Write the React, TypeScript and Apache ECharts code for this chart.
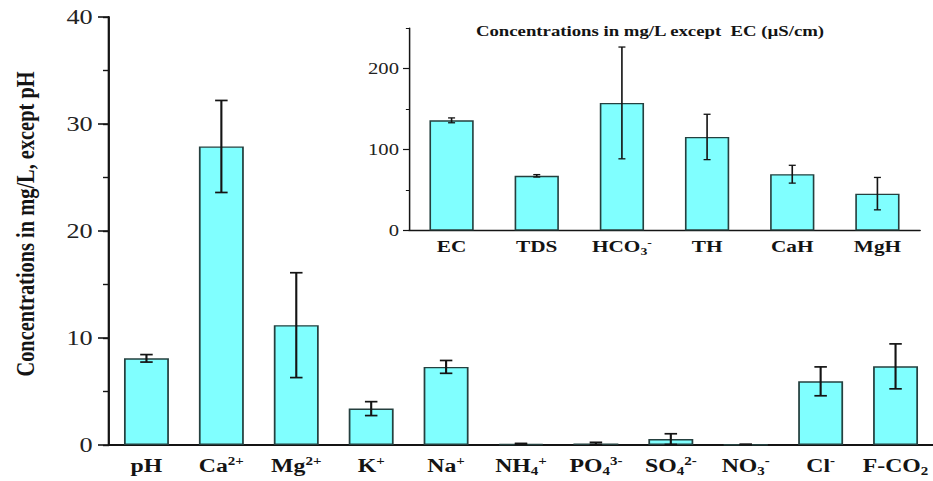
import React, { useEffect, useRef } from 'react';
import * as echarts from 'echarts';

// horizontal stretch of the reference figure
const CW = 746;
const CH = 481;
const SX = 933 / CW;
const SERIF = '"Liberation Serif", "Times New Roman", serif';

const mainCategories = ['pH', 'Ca2+', 'Mg2+', 'K+', 'Na+', 'NH4+', 'PO43-', 'SO42-', 'NO3-', 'Cl-', 'F-CO2'];
const mainLabels = [
  'pH', 'Ca{sup|2+}', 'Mg{sup|2+}', 'K{sup|+}', 'Na{sup|+}', 'NH{sub|4}{sup|+}',
  'PO{sub|4}{sup|3-}', 'SO{sub|4}{sup|2-}', 'NO{sub|3}{sup|-}', 'Cl{sup|-}', 'F-CO{sub|2}',
];
const mainValues = [8.1, 27.9, 11.2, 3.4, 7.3, 0.1, 0.15, 0.55, 0.05, 5.95, 7.35];
const mainErrors = [0.35, 4.3, 4.9, 0.65, 0.6, 0.05, 0.1, 0.5, 0.02, 1.35, 2.1];
const mainTicks = [0, 10, 20, 30, 40];

const insetCategories = ['EC', 'TDS', 'HCO3-', 'TH', 'CaH', 'MgH'];
const insetLabels = ['EC', 'TDS', 'HCO{sub|3}{sup|-}', 'TH', 'CaH', 'MgH'];
const insetValues = [136, 67.5, 157.5, 115.5, 69.5, 45.5];
const insetErrors = [3, 1.5, 69, 28, 11, 20];
const insetTicks = [0, 100, 200];

const mainTitle = 'Concentrations in mg/L, except pH';
const insetTitle = 'Concentrations in mg/L except  EC (\u00b5S/cm)';

const BAR_COLOR = '#80ffff';
const BAR_BORDER = '#25403f';
const INK = '#141414';

function makeRich(size: number, supSize: number) {
  return {
    sup: { fontSize: supSize, lineHeight: supSize, verticalAlign: 'top', fontWeight: 'bold', fontFamily: SERIF, color: INK },
    sub: { fontSize: supSize, lineHeight: supSize, verticalAlign: 'bottom', fontWeight: 'bold', fontFamily: SERIF, color: INK },
  };
}

function errRender(halfCap: number, lw: number) {
  return (params: any, api: any) => {
    const i = api.value(0);
    const lo = api.coord([i, api.value(1)]);
    const hi = api.coord([i, api.value(2)]);
    const style = { stroke: INK, lineWidth: lw, fill: 'none' };
    return {
      type: 'group',
      children: [
        { type: 'line', shape: { x1: hi[0], y1: hi[1], x2: lo[0], y2: lo[1] }, style },
        { type: 'line', shape: { x1: hi[0] - halfCap, y1: hi[1], x2: hi[0] + halfCap, y2: hi[1] }, style },
        { type: 'line', shape: { x1: lo[0] - halfCap, y1: lo[1], x2: lo[0] + halfCap, y2: lo[1] }, style },
      ],
    };
  };
}

export default function App() {
  const ref = useRef<HTMLDivElement>(null);

  useEffect(() => {
    if (!ref.current) return;
    const chart = echarts.init(ref.current, undefined, { renderer: 'svg' });

    const mainMax = mainTicks[mainTicks.length - 1];
    const mainStep = mainTicks[1] - mainTicks[0];
    const insetStep = insetTicks[1] - insetTicks[0];

    const option: any = {
      animation: false,
      backgroundColor: '#ffffff',
      grid: [
        { left: 109 / SX, top: 17, width: (11 * 75.3) / SX, height: 428 },
        { left: 409 / SX, top: 28, width: 511 / SX, height: 202.5 },
      ],
      xAxis: [
        {
          type: 'category', gridIndex: 0, data: mainCategories,
          axisLine: { lineStyle: { color: INK, width: 2 } },
          axisTick: { alignWithLabel: true, length: 8, lineStyle: { color: INK, width: 1.6 } },
          axisLabel: {
            interval: 0, margin: 10, fontSize: 19, lineHeight: 22, fontWeight: 'bold', fontFamily: SERIF, color: INK,
            formatter: (_v: string, i: number) => mainLabels[i],
            rich: makeRich(19, 12),
          },
          splitLine: { show: false },
        },
        {
          type: 'category', gridIndex: 0, data: mainCategories,
          axisLine: { show: false },
          axisTick: { length: 3, lineStyle: { color: INK, width: 1.4 } },
          axisLabel: { show: false },
          splitLine: { show: false },
        },
        {
          type: 'category', gridIndex: 1, data: insetCategories,
          axisLine: { lineStyle: { color: INK, width: 1.4 } },
          axisTick: { alignWithLabel: true, length: 4, lineStyle: { color: INK, width: 1.2 } },
          axisLabel: {
            interval: 0, margin: 6, fontSize: 17, lineHeight: 20, fontWeight: 'bold', fontFamily: SERIF, color: INK,
            formatter: (_v: string, i: number) => insetLabels[i],
            rich: makeRich(17, 11),
          },
          splitLine: { show: false },
        },
        {
          type: 'category', gridIndex: 1, data: insetCategories,
          axisLine: { show: false },
          axisTick: { length: 2.5, lineStyle: { color: INK, width: 1 } },
          axisLabel: { show: false },
          splitLine: { show: false },
        },
      ],
      yAxis: [
        {
          type: 'value', gridIndex: 0, position: 'left', min: 0, max: mainMax, interval: mainStep,
          axisLine: { show: true, lineStyle: { color: INK, width: 1.8 } },
          axisTick: { show: true, length: 8.8, lineStyle: { color: INK, width: 1.6 } },
          axisLabel: { margin: 13, fontSize: 21, fontFamily: SERIF, color: '#222' },
          splitLine: { show: false },
        },
        {
          type: 'value', gridIndex: 0, position: 'left', min: 0, max: mainMax, interval: mainStep / 2,
          axisLine: { show: false },
          axisTick: { show: true, length: 4.8, lineStyle: { color: INK, width: 1.4 } },
          axisLabel: { show: false },
          splitLine: { show: false },
        },
        {
          type: 'value', gridIndex: 1, position: 'left', min: 0, max: 250, interval: insetStep,
          axisLine: { show: true, lineStyle: { color: INK, width: 1.2 } },
          axisTick: { show: true, length: 4.8, lineStyle: { color: INK, width: 1.2 } },
          axisLabel: { margin: 8, fontSize: 16.5, fontFamily: SERIF, color: '#222', showMaxLabel: false },
          splitLine: { show: false },
        },
        {
          type: 'value', gridIndex: 1, position: 'left', min: 0, max: 250, interval: insetStep / 2,
          axisLine: { show: false },
          axisTick: { show: true, length: 2.5, lineStyle: { color: INK, width: 1 } },
          axisLabel: { show: false },
          splitLine: { show: false },
        },
      ],
      series: [
        {
          type: 'bar', xAxisIndex: 0, yAxisIndex: 0, data: mainValues, barWidth: '60%',
          itemStyle: { color: BAR_COLOR, borderColor: BAR_BORDER, borderWidth: 1.4 },
        },
        {
          type: 'custom', xAxisIndex: 0, yAxisIndex: 0, z: 5,
          data: mainValues.map((v, i) => [i, v - mainErrors[i], v + mainErrors[i]]),
          encode: { x: 0, y: [1, 2] },
          renderItem: errRender(5, 1.7),
        },
        {
          type: 'bar', xAxisIndex: 2, yAxisIndex: 2, data: insetValues, barWidth: '52%',
          itemStyle: { color: BAR_COLOR, borderColor: BAR_BORDER, borderWidth: 1.3 },
        },
        {
          type: 'custom', xAxisIndex: 2, yAxisIndex: 2, z: 5,
          data: insetValues.map((v, i) => [i, v - insetErrors[i], v + insetErrors[i]]),
          encode: { x: 0, y: [1, 2] },
          renderItem: errRender(2.8, 1.3),
        },
      ],
      graphic: [
        {
          type: 'text', x: 20, y: 224, rotation: Math.PI / 2,
          style: {
            text: mainTitle, fontSize: 20.4, fontWeight: 'bold', fontFamily: SERIF, fill: INK,
            align: 'center', verticalAlign: 'middle',
          },
        },
        {
          type: 'text', x: 650 / SX, y: 31,
          style: {
            text: insetTitle, fontSize: 15, fontWeight: 'bold', fontFamily: SERIF, fill: INK,
            align: 'center', verticalAlign: 'middle',
          },
        },
      ],
    };

    chart.setOption(option);
    return () => chart.dispose();
  }, []);

  return (
    <div style={{ position: 'fixed', left: 0, top: 0, width: 933, height: 481, overflow: 'hidden', background: '#fff' }}>
      <div
        ref={ref}
        style={{ width: CW, height: CH, transform: `scaleX(${SX})`, transformOrigin: '0 0' }}
      />
    </div>
  );
}
